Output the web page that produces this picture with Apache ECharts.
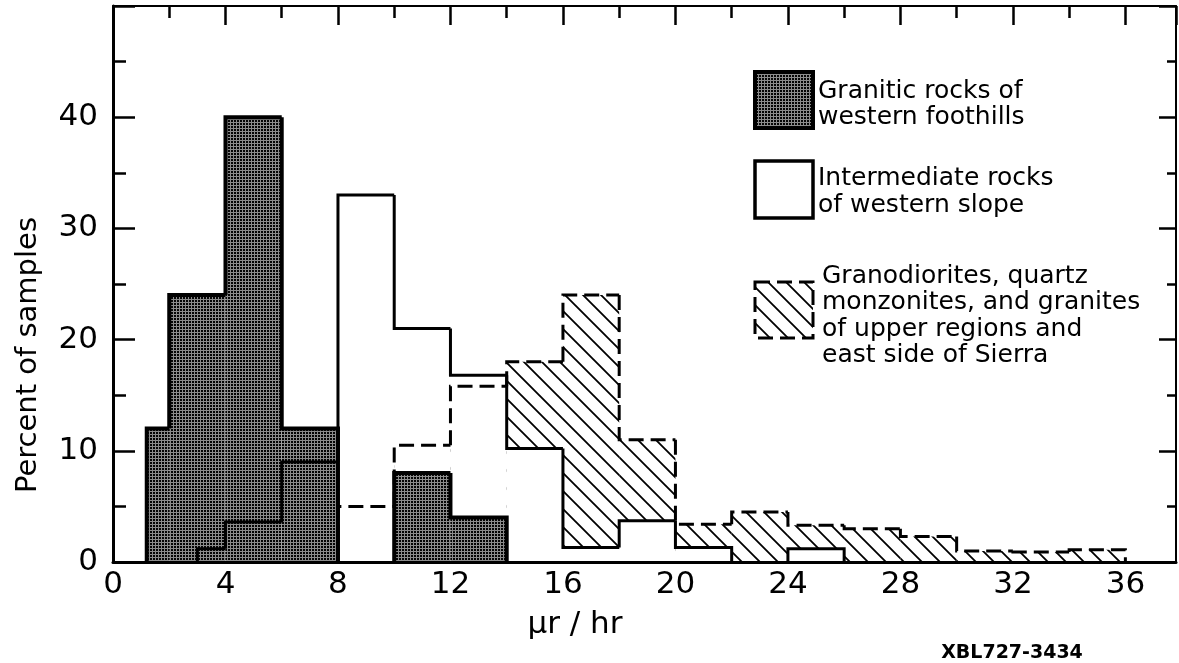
<!DOCTYPE html>
<html><head><meta charset="utf-8">
<script src="https://cdn.jsdelivr.net/npm/echarts@6/dist/echarts.min.js"></script>
<style>html,body{margin:0;padding:0;background:#fff}#c{width:1179px;height:663px}</style>
</head><body><div id="c"></div><script>
// ---- data ----
const graniticStart = [1.2, 2, 4, 6, 10, 12];
const graniticEnd   = [2, 4, 6, 8, 12, 14];
const graniticPct   = [12, 24, 40, 12, 8, 4];

const intermediateStart = [3, 4, 6, 8, 10, 12, 14, 16, 18, 20, 24];
const intermediateEnd   = [4, 6, 8, 10, 12, 14, 16, 18, 20, 22, 26];
const intermediatePct   = [1.2, 3.6, 9, 33, 21, 16.8, 10.2, 1.3, 3.7, 1.3, 1.2];

const granodioriteStart = [8, 10, 12, 14, 16, 18, 20, 22, 24, 26, 28, 30, 32, 34];
const granodioriteEnd   = [10, 12, 14, 16, 18, 20, 22, 24, 26, 28, 30, 32, 34, 36];
const granodioritePct   = [5, 10.5, 15.8, 18, 24, 11, 3.4, 4.5, 3.3, 3.0, 2.3, 1.0, 0.9, 1.1];

const xTickLabels = [0, 4, 8, 12, 16, 20, 24, 28, 32, 36];
const yTickLabels = [0, 10, 20, 30, 40];

const legendGranitic = ['Granitic rocks of', 'western foothills'];
const legendIntermediate = ['Intermediate rocks', 'of western slope'];
const legendGranodiorite = ['Granodiorites, quartz', 'monzonites, and granites', 'of upper regions and', 'east side of Sierra'];

// ---- patterns ----
function makeHatch() {
  const s = 18, c = document.createElement('canvas');
  c.width = s; c.height = s;
  const g = c.getContext('2d');
  g.strokeStyle = '#000'; g.lineWidth = 1.8;
  g.beginPath();
  g.moveTo(-2, -2); g.lineTo(s + 2, s + 2);
  g.moveTo(-2, s - 2); g.lineTo(2, s + 2);
  g.moveTo(s - 2, -2); g.lineTo(s + 2, 2);
  g.stroke();
  return { image: c, repeat: 'repeat' };
}
function makeStipple() {
  const c = document.createElement('canvas');
  c.width = 3; c.height = 3;
  const g = c.getContext('2d');
  g.fillStyle = '#050505'; g.fillRect(0, 0, 3, 3);
  g.fillStyle = '#8c8c8c'; g.fillRect(0, 2, 3, 1); g.fillRect(2, 0, 1, 2);
  return { image: c, repeat: 'repeat' };
}
const hatch = makeHatch();
const stipple = makeStipple();

function bins(s, e, p) { return s.map((v, i) => [v, e[i], p[i]]); }
const graniticData = bins(graniticStart, graniticEnd, graniticPct);
const intermediateData = bins(intermediateStart, intermediateEnd, intermediatePct);
const granodioriteData = bins(granodioriteStart, granodioriteEnd, granodioritePct);

function fillRender(fill) {
  return function (params, api) {
    const a = api.coord([api.value(0), api.value(2)]);
    const b = api.coord([api.value(1), 0]);
    return { type: 'rect', shape: { x: a[0], y: a[1], width: b[0] - a[0], height: b[1] - a[1] }, style: { fill: fill } };
  };
}
function outlineRender(data, st) {
  return function (params, api) {
    const i = params.dataIndex;
    const x0 = api.value(0), x1 = api.value(1), h = api.value(2);
    const prev = (i > 0 && data[i - 1][1] === x0) ? data[i - 1][2] : 0;
    const next = (i < data.length - 1 && data[i + 1][0] === x1);
    const pts = [api.coord([x0, prev]), api.coord([x0, h]), api.coord([x1, h])];
    if (!next) pts.push(api.coord([x1, 0]));
    return { type: 'polyline', shape: { points: pts }, style: Object.assign({ fill: 'none', stroke: '#000', lineJoin: 'miter' }, st) };
  };
}
function customSeries(data, render, z) {
  return { type: 'custom', data: data, renderItem: render, encode: { x: [0, 1], y: 2 }, z: z, silent: true, clip: false };
}

const FONT = 'DejaVu Sans';
const chart = echarts.init(document.getElementById('c'), null, { renderer: 'canvas' });

const legendText = [];
function addLines(lines, x, y0, dy) {
  lines.forEach((t, k) => legendText.push({ type: 'text', x: x, y: y0 + k * dy, z: 20,
    style: { text: t, fill: '#000', font: '25px "' + FONT + '"', align: 'left', verticalAlign: 'middle' } }));
}
addLines(legendGranitic, 818, 91, 26);
addLines(legendIntermediate, 818, 178, 27);
addLines(legendGranodiorite, 822, 276, 26.5);

chart.setOption({
  animation: false,
  backgroundColor: '#fff',
  grid: { left: 113, top: 6, width: 1064, height: 556 },
  xAxis: [
    { type: 'value', position: 'bottom', min: 0, max: 37.8, interval: 4, z: 10,
      axisLine: { show: true, onZero: false, lineStyle: { color: '#000', width: 3 } },
      axisTick: { show: false },
      axisLabel: { color: '#000', fontSize: 31, fontFamily: FONT, margin: 7,
        formatter: v => (Math.abs(v - Math.round(v)) < 1e-6 && xTickLabels.includes(Math.round(v))) ? String(Math.round(v)) : '' },
      splitLine: { show: false } },
    { type: 'value', position: 'top', min: 0, max: 37.8, interval: 4, z: 10,
      axisLine: { show: true, onZero: false, lineStyle: { color: '#000', width: 2 } },
      axisTick: { show: true, inside: true, length: 19, lineStyle: { color: '#000', width: 2.5 } },
      minorTick: { show: true, splitNumber: 2, length: 12, lineStyle: { color: '#000', width: 2.5 } },
      axisLabel: { show: false }, splitLine: { show: false } }
  ],
  yAxis: [
    { type: 'value', position: 'left', min: 0, max: 50, interval: 10, z: 10,
      axisLine: { show: true, onZero: false, lineStyle: { color: '#000', width: 3 } },
      axisTick: { show: true, inside: true, length: 22, lineStyle: { color: '#000', width: 2.5 } },
      minorTick: { show: true, splitNumber: 2, length: 13, lineStyle: { color: '#000', width: 2.5 } },
      axisLabel: { color: '#000', fontSize: 31, fontFamily: FONT, margin: 15,
        formatter: v => yTickLabels.includes(Math.round(v)) ? String(Math.round(v)) : '' },
      splitLine: { show: false } },
    { type: 'value', position: 'right', min: 0, max: 50, interval: 10, z: 10,
      axisLine: { show: true, onZero: false, lineStyle: { color: '#000', width: 2 } },
      axisTick: { show: true, inside: true, length: 17, lineStyle: { color: '#000', width: 2.5 } },
      minorTick: { show: true, splitNumber: 2, length: 9, lineStyle: { color: '#000', width: 2.5 } },
      axisLabel: { show: false }, splitLine: { show: false } }
  ],
  series: [
    customSeries(granodioriteData, fillRender(hatch), 1),
    customSeries(intermediateData, fillRender('#fff'), 2),
    customSeries(graniticData, fillRender(stipple), 3),
    customSeries(graniticData, outlineRender(graniticData, { lineWidth: 4 }), 4),
    customSeries(intermediateData, outlineRender(intermediateData, { lineWidth: 3 }), 5),
    customSeries(granodioriteData, outlineRender(granodioriteData, { lineWidth: 3, lineDash: [15, 7] }), 6)
  ],
  graphic: [
    { type: 'text', x: 28, y: 355, rotation: Math.PI / 2, z: 20,
      style: { text: 'Percent of samples', fill: '#000', font: '29px "' + FONT + '"', align: 'center', verticalAlign: 'middle' } },
    { type: 'text', x: 575, y: 625, z: 20,
      style: { text: 'μr / hr', fill: '#000', font: '31px "' + FONT + '"', align: 'center', verticalAlign: 'middle' } },
    { type: 'text', x: 1012, y: 653, z: 20,
      style: { text: 'XBL727-3434', fill: '#000', font: 'bold 19px "' + FONT + '"', align: 'center', verticalAlign: 'middle' } },
    { type: 'rect', z: 20, shape: { x: 755, y: 72, width: 58, height: 56 }, style: { fill: stipple, stroke: '#000', lineWidth: 4 } },
    { type: 'rect', z: 20, shape: { x: 755, y: 161, width: 58, height: 57 }, style: { fill: '#fff', stroke: '#000', lineWidth: 3.5 } },
    { type: 'rect', z: 20, shape: { x: 755, y: 282, width: 58, height: 56 }, style: { fill: hatch, stroke: '#000', lineWidth: 3, lineDash: [15, 7] } }
  ].concat(legendText)
});
</script></body></html>
